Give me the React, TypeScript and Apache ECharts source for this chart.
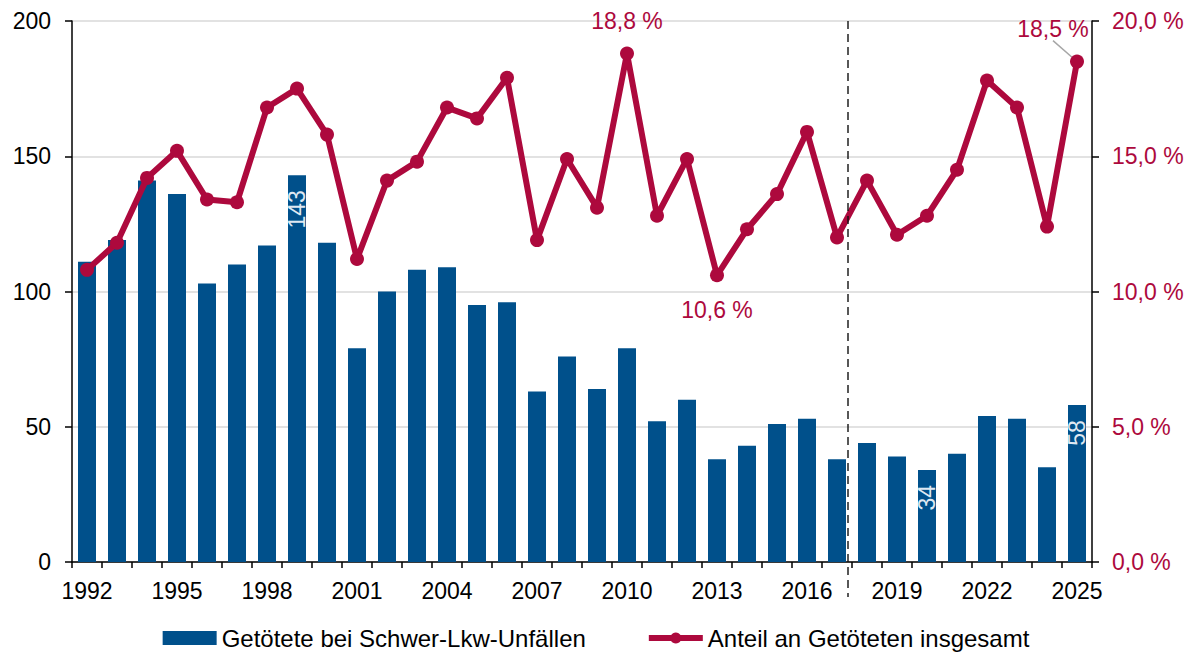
import React, { useEffect, useRef } from "react";
import * as echarts from "echarts";

const years = [
  "1992", "1993", "1994", "1995", "1996", "1997", "1998", "1999", "2000",
  "2001", "2002", "2003", "2004", "2005", "2006", "2007", "2008", "2009", "2010",
  "2011", "2012", "2013", "2014", "2015", "2016", "2017", "2018", "2019", "2020",
  "2021", "2022", "2023", "2024", "2025",
];

const killed = [
  111, 119, 141, 136, 103, 110, 117, 143, 118,
  79, 100, 108, 109, 95, 96, 63, 76, 64, 79,
  52, 60, 38, 43, 51, 53, 38, 44, 39, 34,
  40, 54, 53, 35, 58,
];

const share = [
  10.8, 11.8, 14.2, 15.2, 13.4, 13.3, 16.8, 17.5, 15.8,
  11.2, 14.1, 14.8, 16.8, 16.4, 17.9, 11.9, 14.9, 13.1, 18.8,
  12.8, 14.9, 10.6, 12.3, 13.6, 15.9, 12.0, 14.1, 12.1, 12.8,
  14.5, 17.8, 16.8, 12.4, 18.5,
];

const barLabelYears = ["1999", "2020", "2025"];
const lineLabelTop = ["2010"];
const lineLabelBottom = ["2013"];
const lineLabelShifted = ["2025"];
const dividerAfter = "2017";

const leftTicks = [0, 50, 100, 150, 200];
const rightTicks = [0, 5, 10, 15, 20];

const BLUE = "#00508b";
const RED = "#ad093d";
const FONT = "'Liberation Sans', Arial, Helvetica, sans-serif";
const FS = 23;

const fmtPct = (v: number) => v.toFixed(1).replace(".", ",") + " %";

export default function App() {
  const ref = useRef<HTMLDivElement>(null);

  useEffect(() => {
    if (!ref.current) return;
    const chart = echarts.init(ref.current, undefined, { renderer: "svg" });

    const barData = killed.map((v, i) => {
      if (barLabelYears.includes(years[i])) {
        return {
          value: v,
          label: {
            show: true,
            position: "insideTop",
            rotate: 90,
            align: "right",
            verticalAlign: "middle",
            distance: 15,
            color: "#dfe8f2",
            fontSize: FS,
            fontFamily: FONT,
            formatter: (p: any) => String(p.value),
          },
        };
      }
      return v;
    });

    const lineData = share.map((v, i) => {
      const y = years[i];
      const base = {
        show: true,
        color: RED,
        fontSize: FS,
        fontFamily: FONT,
        formatter: (p: any) => fmtPct(p.value),
      };
      if (lineLabelTop.includes(y)) {
        return { value: v, label: { ...base, position: "top", distance: 14 } };
      }
      if (lineLabelBottom.includes(y)) {
        return { value: v, label: { ...base, position: "bottom", distance: 16 } };
      }
      if (lineLabelShifted.includes(y)) {
        return {
          value: v,
          label: { ...base, position: "top", distance: 14 },
          labelLine: { show: true, lineStyle: { color: "#a6a6a6", width: 1.5 } },
        };
      }
      return v;
    });

    const option: any = {
      animation: false,
      textStyle: { fontFamily: FONT },
      grid: { left: 72, right: 100, top: 21, bottom: 95, containLabel: false },
      legend: {
        top: 621,
        left: "center",
        itemGap: 60,
        itemWidth: 54,
        itemHeight: 14,
        textStyle: { fontSize: 24, color: "#000", fontFamily: FONT },
        data: [
          { name: "Getötete bei Schwer-Lkw-Unfällen", icon: "rect" },
          {
            name: "Anteil an Getöteten insgesamt",
            lineStyle: { width: 6, color: RED },
            itemStyle: { color: RED },
          },
        ],
      },
      xAxis: {
        type: "category",
        data: years,
        boundaryGap: true,
        axisLine: { show: true, lineStyle: { color: "#000", width: 1.5 } },
        axisTick: { show: true, interval: 0, length: 6, lineStyle: { color: "#000", width: 1.5 } },
        axisLabel: { interval: 2, color: "#000", fontSize: FS, fontFamily: FONT, margin: 17 },
        splitLine: { show: false },
      },
      yAxis: [
        {
          type: "value",
          min: leftTicks[0],
          max: leftTicks[leftTicks.length - 1],
          interval: leftTicks[1] - leftTicks[0],
          axisLine: { show: true, lineStyle: { color: "#000", width: 1.5 } },
          axisTick: { show: true, length: 7, lineStyle: { color: "#000", width: 1.5 } },
          axisLabel: { color: "#000", fontSize: FS, fontFamily: FONT, margin: 21 },
          splitLine: { show: true, lineStyle: { color: "#e2e2e2", width: 2 } },
        },
        {
          type: "value",
          position: "right",
          min: rightTicks[0],
          max: rightTicks[rightTicks.length - 1],
          interval: rightTicks[1] - rightTicks[0],
          axisLine: { show: true, lineStyle: { color: "#000", width: 1.5 } },
          axisTick: { show: true, length: 7, lineStyle: { color: "#000", width: 1.5 } },
          axisLabel: {
            color: RED,
            fontSize: FS,
            fontFamily: FONT,
            margin: 20,
            formatter: (v: number) => fmtPct(v),
          },
          splitLine: { show: false },
        },
      ],
      series: [
        {
          name: "Getötete bei Schwer-Lkw-Unfällen",
          type: "bar",
          yAxisIndex: 0,
          barWidth: "60%",
          itemStyle: { color: BLUE },
          data: barData,
        },
        {
          name: "Anteil an Getöteten insgesamt",
          type: "line",
          yAxisIndex: 1,
          symbol: "circle",
          symbolSize: 14,
          lineStyle: { color: RED, width: 6 },
          itemStyle: { color: RED },
          data: lineData,
          labelLayout: (p: any) => {
            if (lineLabelShifted.includes(years[p.dataIndex])) {
              return { dx: -24, dy: 0 };
            }
            return {};
          },
          z: 5,
        },
      ],
    };

    chart.setOption(option);

    const idx = years.indexOf(dividerAfter);
    const xa = chart.convertToPixel({ xAxisIndex: 0 }, years[idx]) as number;
    const xb = chart.convertToPixel({ xAxisIndex: 0 }, years[idx + 1]) as number;
    const top = chart.convertToPixel({ yAxisIndex: 0 }, leftTicks[leftTicks.length - 1]) as number;
    const bottom = chart.convertToPixel({ yAxisIndex: 0 }, 0) as number;
    const xm = (xa + xb) / 2 - 4;
    chart.setOption({
      graphic: [
        {
          type: "line",
          z: 10,
          shape: { x1: xm, y1: top, x2: xm, y2: bottom + 35 },
          style: { stroke: "#111", lineWidth: 1.4, lineDash: [8, 5] },
        },
      ],
    });

    return () => chart.dispose();
  }, []);

  return (
    <div
      ref={ref}
      style={{ position: "absolute", left: 0, top: 0, width: 1192, height: 657 }}
    />
  );
}
